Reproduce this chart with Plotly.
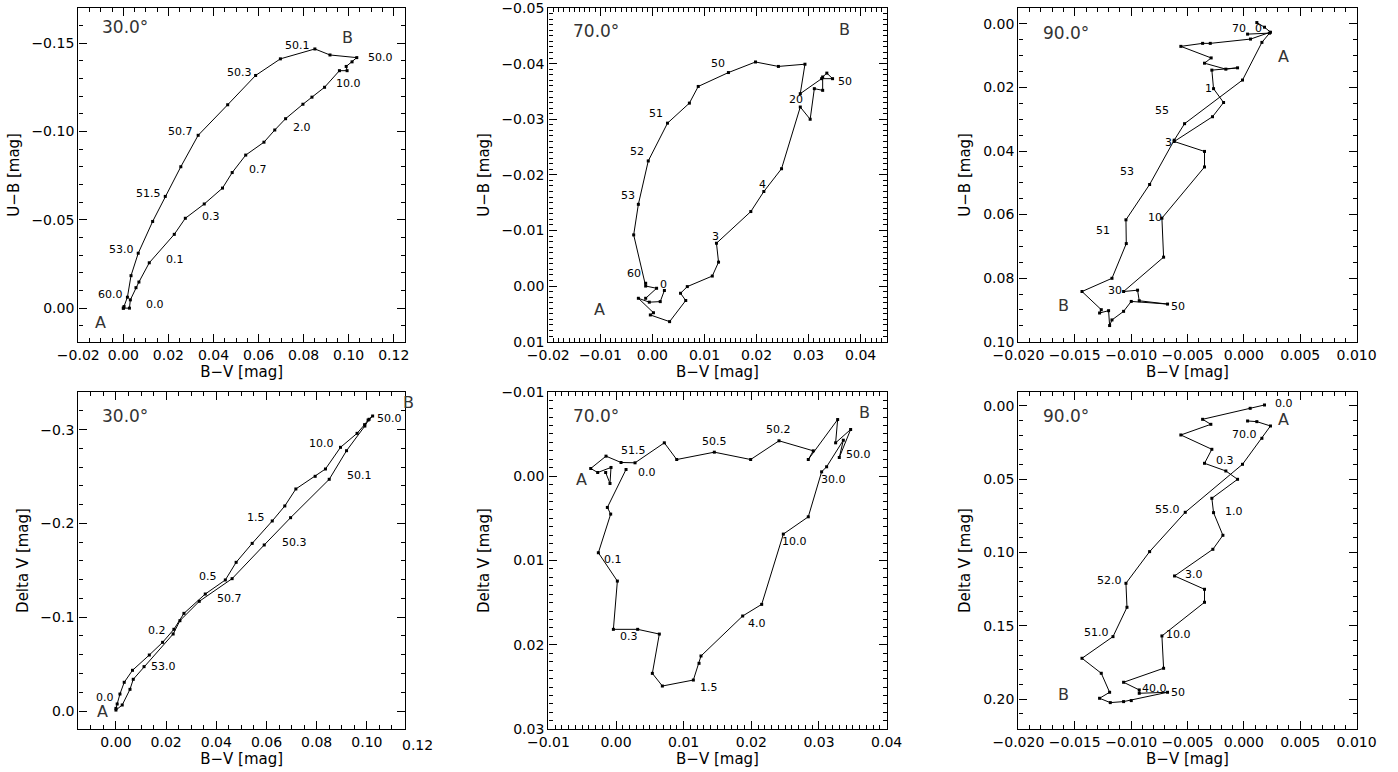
import plotly.graph_objects as go

W, H = 1398, 772

# ---------------- data ----------------
# 30 deg, U-B vs B-V
bv_30_top = [0, 0.0027, 0.0031, 0.0056, 0.0069, 0.0115, 0.0226, 0.0275, 0.0359, 0.0440,
             0.0483, 0.0543, 0.0624, 0.0672, 0.0720, 0.0797, 0.0837, 0.0893, 0.0959, 0.0993,
             0.0989, 0.1015, 0.1036, 0.0917, 0.0850, 0.0697, 0.0587, 0.0463, 0.0332, 0.0255,
             0.0186, 0.0130, 0.0066, 0.0034, 0.0018, 0.0003, 0.0]
ub_30 = [0, 0, -0.0047, -0.0116, -0.0148, -0.0257, -0.0418, -0.0509, -0.0590, -0.0680,
         -0.0768, -0.0867, -0.0940, -0.1009, -0.1073, -0.1155, -0.1195, -0.1251, -0.1345, -0.1345,
         -0.1369, -0.1395, -0.1419, -0.1434, -0.1468, -0.1412, -0.1318, -0.1152, -0.0979, -0.0801,
         -0.0633, -0.0491, -0.0311, -0.0184, -0.0062, -0.0009, 0.0]
lab_30_top = ["0.0", "0.1", "0.3", "0.7", "2.0", "10.0", "50.0", "50.1", "50.3", "50.7", "51.5", "53.0", "60.0"]
lab_30_top_x = [0.0142, 0.0229, 0.0390, 0.0598, 0.0791, 0.0999, 0.1141, 0.0772, 0.0514, 0.0255, 0.0111, -0.0007, -0.0056]
lab_30_top_y = [-0.0020, -0.0277, -0.0520, -0.0787, -0.1022, -0.1270, -0.1418, -0.1487, -0.1337, -0.1000, -0.0650, -0.0333, -0.0077]

# 70 deg, U-B vs B-V
bv_70_top = [0.0023, 0.0015, -0.0006, -0.0027, 0.0002, -0.0004, 0.0033, 0.0064, 0.0054, 0.0067,
             0.0115, 0.0127, 0.0123, 0.0189, 0.0214, 0.0248, 0.0284, 0.0303, 0.0311, 0.0327,
             0.0327, 0.0335, 0.0346, 0.0325, 0.0284, 0.0293, 0.0242, 0.0198, 0.0146, 0.0088,
             0.0071, 0.0029, -0.0008, -0.0027, -0.0036, -0.0013, -0.0013, 0.0008, -0.0013]
ub_70 = [0.0008, 0.0028, 0.0029, 0.0022, 0.0048, 0.0052, 0.0064, 0.0026, 0.0013, 0.0001,
         -0.0018, -0.0043, -0.0077, -0.0134, -0.0170, -0.0211, -0.0322, -0.0300, -0.0355, -0.0352,
         -0.0376, -0.0383, -0.0373, -0.0373, -0.0346, -0.0399, -0.0395, -0.0403, -0.0384, -0.0359,
         -0.0329, -0.0293, -0.0225, -0.0147, -0.0092, -0.0005, 0.0, 0.0004, 0.0022]
lab_70_top = ["0", "3", "4", "20", "50", "50", "51", "52", "53", "60"]
lab_70_top_x = [0.0021, 0.0122, 0.0212, 0.0276, 0.0369, 0.0125, 0.0007, -0.0030, -0.0047, -0.0035]
lab_70_top_y = [-0.0003, -0.0089, -0.0182, -0.0335, -0.0368, -0.0400, -0.0310, -0.0242, -0.0163, -0.0023]

# 90 deg, U-B vs B-V
bv_90_top = [0.00115, 0.00183, 0.00236, 0.00059, -0.00298, -0.00366, -0.00559, -0.00290, -0.00349, -0.00160,
             -0.00056, -0.00284, -0.00269, -0.00180, -0.00278, -0.00618, -0.00349, -0.00349, -0.00727, -0.00712,
             -0.01067, -0.00943, -0.00928, -0.00677, -0.00999, -0.01067, -0.01170, -0.01191, -0.01200, -0.01280,
             -0.01265, -0.01436, -0.01170, -0.01043, -0.01046, -0.00836, -0.00618, -0.00526, -0.00012, 0.00160,
             0.00228, 0.00033]
ub_90 = [-0.00042, 0.00104, 0.00260, 0.00478, 0.00613, 0.00613, 0.00707, 0.01071, 0.01237, 0.01424,
         0.01383, 0.01455, 0.02038, 0.02474, 0.02921, 0.03701, 0.04013, 0.04502, 0.06113, 0.07340,
         0.08421, 0.08379, 0.08712, 0.08816, 0.08733, 0.09045, 0.09315, 0.09492, 0.09024, 0.09097,
         0.08993, 0.08421, 0.08005, 0.06913, 0.06165, 0.05053, 0.03659, 0.03140, 0.01767, 0.00582,
         0.00291, 0.00322]
lab_90_top = ["0", "70", "1", "55", "3", "53", "10", "51", "30", "50"]
lab_90_top_x = [0.0013, -0.00047, -0.0031, -0.0073, -0.0067, -0.0104, -0.0079, -0.0125, -0.0114, -0.0058]
lab_90_top_y = [0.0014, 0.0014, 0.0202, 0.0271, 0.0372, 0.0464, 0.0609, 0.0651, 0.0840, 0.0890]

# 30 deg, Delta V vs B-V
bv_30_bot = [0.0, 0.0005, 0.0016, 0.0033, 0.0066, 0.0133, 0.0186, 0.0231, 0.0271, 0.0356,
             0.0436, 0.0479, 0.0543, 0.0623, 0.0673, 0.0717, 0.0794, 0.0835, 0.0895, 0.0961,
             0.0991, 0.1005, 0.1023, 0.1009, 0.0992, 0.0919, 0.0850, 0.0696, 0.0591, 0.0463,
             0.0332, 0.0255, 0.0228, 0.0112, 0.0069, 0.0056, 0.0025, 0.0]
dv_30 = [-0.0028, -0.0075, -0.0181, -0.0306, -0.0434, -0.0597, -0.0732, -0.0871, -0.1041, -0.1247,
         -0.1397, -0.1585, -0.1787, -0.2026, -0.2186, -0.2367, -0.2502, -0.2580, -0.2811, -0.2960,
         -0.3053, -0.3102, -0.3145, -0.3110, -0.3038, -0.2775, -0.2470, -0.2061, -0.1770, -0.1411,
         -0.1169, -0.0963, -0.0821, -0.0473, -0.0338, -0.0231, -0.0064, -0.0010]
lab_30_bot = ["0.0", "0.2", "0.5", "1.5", "10.0", "50.0", "50.1", "50.3", "50.7", "53.0"]
lab_30_bot_x = [-0.0045, 0.0162, 0.0368, 0.0560, 0.0819, 0.1089, 0.0972, 0.0713, 0.0454, 0.0189]
lab_30_bot_y = [-0.0140, -0.0856, -0.1432, -0.2058, -0.2854, -0.3120, -0.2509, -0.1800, -0.1200, -0.0473]

# 70 deg, Delta V vs B-V
bv_70_bot = [0.00148, -0.00128, -0.00079, -0.00261, 0.00020, -0.00039, 0.00320, 0.00640, 0.00537, 0.00685,
             0.01143, 0.01227, 0.01256, 0.01872, 0.02153, 0.02473, 0.02842, 0.03039, 0.03113, 0.03360,
             0.03300, 0.03468, 0.03246, 0.03276, 0.02842, 0.02916, 0.02409, 0.01990, 0.01453, 0.00897,
             0.00714, 0.00281, 0.00074, -0.00148, -0.00374, -0.00271, -0.00074, -0.00089, -0.00153]
dv_70 = [-0.00079, 0.00371, 0.00450, 0.00908, 0.01244, 0.01816, 0.01816, 0.01872, 0.02338, 0.02488,
         0.02417, 0.02219, 0.02132, 0.01658, 0.01520, 0.00687, 0.00482, -0.00051, -0.00111, -0.00426,
         -0.00221, -0.00553, -0.00395, -0.00671, -0.00197, -0.00300, -0.00419, -0.00197, -0.00284, -0.00197,
         -0.00395, -0.00158, -0.00162, -0.00237, -0.00091, -0.00043, -0.00103, 0.00087, -0.00043]
lab_70_bot = ["0.0", "0.1", "0.3", "1.5", "4.0", "10.0", "30.0", "50.0", "50.2", "50.5", "51.5"]
lab_70_bot_x = [0.00463, -0.0005, 0.0019, 0.0138, 0.0209, 0.02645, 0.0321, 0.0358, 0.0240, 0.01453, 0.00256]
lab_70_bot_y = [-0.0004, 0.00987, 0.01895, 0.0250, 0.01745, 0.00778, 0.0004, -0.0026, -0.00557, -0.00415, -0.0030]

# 90 deg, Delta V vs B-V
bv_90_bot = [0.00183, 0.00056, -0.00366, -0.00293, -0.00559, -0.00284, -0.00349, -0.00160, -0.00056, -0.00284,
             -0.00269, -0.00186, -0.00275, -0.00615, -0.00349, -0.00349, -0.00727, -0.00712, -0.01067, -0.00928,
             -0.00928, -0.00677, -0.00999, -0.01067, -0.01185, -0.01280, -0.01191, -0.01265, -0.01436, -0.01161,
             -0.01037, -0.01046, -0.00836, -0.00520, -0.00012, 0.00160, 0.00236, 0.00115, 0.00033]
dv_90 = [-0.00045, 0.00182, 0.00931, 0.01272, 0.01998, 0.02975, 0.03928, 0.04450, 0.05018, 0.06312,
         0.07289, 0.08833, 0.09787, 0.11603, 0.12511, 0.13397, 0.15690, 0.17893, 0.18846, 0.19369,
         0.19596, 0.19528, 0.20095, 0.20163, 0.20232, 0.19936, 0.19528, 0.18233, 0.17212, 0.15736,
         0.13738, 0.12103, 0.09946, 0.07266, 0.03996, 0.02225, 0.01385, 0.01090, 0.01045]
lab_90_bot = ["0.0", "70.0", "0.3", "1.0", "55.0", "3.0", "52.0", "10.0", "51.0", "40.0", "50"]
lab_90_bot_x = [0.0036, 0.0001, -0.00165, -0.00086, -0.0068, -0.0044, -0.0119, -0.0058, -0.0131, -0.0079, -0.00585]
lab_90_bot_y = [-0.0016, 0.0195, 0.0377, 0.0722, 0.0706, 0.1149, 0.1188, 0.1558, 0.1546, 0.1926, 0.1953]

angles = ["30.0°", "70.0°", "90.0°", "30.0°", "70.0°", "90.0°"]
angle_x = [-0.0103, -0.0156, -0.0180, -0.0064, -0.00665, -0.0180]
angle_y = [-0.1592, -0.0459, 0.0029, -0.3145, -0.0071, 0.0070]
a_x = [-0.0103, -0.0101, 0.0035, -0.0053, -0.00507, 0.0035]
a_y = [0.0079, 0.0043, 0.0102, 0.0010, 0.0004, 0.0093]
b_x = [0.0993, 0.0369, -0.0160, 0.1165, 0.0368, -0.0160]
b_y = [-0.1532, -0.0462, 0.0887, -0.3287, -0.0076, 0.1971]
extra_tick_x = 0.12   # label drawn just past the right edge of the lower-left panel

# ---------------- layout description ----------------
FONT = "DejaVu Sans, Verdana, sans-serif"
TOP = (8.0, 341.7)
BOT = (391.7, 729.3)

panels = [
    dict(x=bv_30_top, y=ub_30, lab=lab_30_top, lx=lab_30_top_x, ly=lab_30_top_y,
         xr=[-0.02, 0.125], yr=[0.019, -0.170], px=(78.3, 405.0), py=TOP,
         xdt=0.02, xmn=0.005, ydt=0.05, ymn=0.01, xf=".2f", yf=".2f", yt="U−B [mag]"),
    dict(x=bv_70_top, y=ub_70, lab=lab_70_top, lx=lab_70_top_x, ly=lab_70_top_y,
         xr=[-0.02, 0.045], yr=[0.01001, -0.05001], px=(548.3, 886.7), py=TOP,
         xdt=0.01, xmn=0.001, ydt=0.01, ymn=0.001, xf=".2f", yf=".2f", yt="U−B [mag]"),
    dict(x=bv_90_top, y=ub_90, lab=lab_90_top, lx=lab_90_top_x, ly=lab_90_top_y,
         xr=[-0.02001, 0.01001], yr=[0.1, -0.005], px=(1018.3, 1356.7), py=TOP,
         xdt=0.005, xmn=0.001, ydt=0.02, ymn=0.005, xf=".3f", yf=".2f", yt="U−B [mag]"),
    dict(x=bv_30_bot, y=dv_30, lab=lab_30_bot, lx=lab_30_bot_x, ly=lab_30_bot_y,
         xr=[-0.015, 0.1152], yr=[0.0195, -0.3404], px=(78.3, 405.0), py=BOT,
         xdt=0.02, xmn=0.005, ydt=0.1, ymn=0.02, xf=".2f", yf=".1f", yt="Delta V [mag]"),
    dict(x=bv_70_bot, y=dv_70, lab=lab_70_bot, lx=lab_70_bot_x, ly=lab_70_bot_y,
         xr=[-0.01001, 0.04001], yr=[0.03001, -0.01001], px=(548.3, 886.7), py=BOT,
         xdt=0.01, xmn=0.001, ydt=0.01, ymn=0.001, xf=".2f", yf=".2f", yt="Delta V [mag]"),
    dict(x=bv_90_bot, y=dv_90, lab=lab_90_bot, lx=lab_90_bot_x, ly=lab_90_bot_y,
         xr=[-0.02001, 0.01001], yr=[0.2205, -0.0095], px=(1018.3, 1356.7), py=BOT,
         xdt=0.005, xmn=0.001, ydt=0.05, ymn=0.01, xf=".3f", yf=".2f", yt="Delta V [mag]"),
]


def frac(v, rng):
    """position of a value inside an axis range, as a fraction of the axis domain"""
    return (v - rng[0]) / (rng[1] - rng[0])


fig = go.Figure()
annotations = []
layout = {}

for i, p in enumerate(panels):
    n = i + 1
    xa = "x" if n == 1 else f"x{n}"
    ya = "y" if n == 1 else f"y{n}"
    fig.add_trace(go.Scatter(
        x=p["x"], y=p["y"], xaxis=xa, yaxis=ya, mode="lines+markers",
        line=dict(color="black", width=1),
        marker=dict(symbol="square", size=3, color="black"),
        showlegend=False, hoverinfo="skip", cliponaxis=False))

    common = dict(showline=True, linecolor="black", linewidth=1.4, mirror="allticks",
                  ticks="inside", ticklen=8, tickwidth=1.2, tickcolor="black",
                  layer="above traces", automargin=False, ticklabeloverflow="allow",
                  showgrid=False, zeroline=False, tick0=0,
                  tickfont=dict(family=FONT, size=14, color="black"))
    xd = [p["px"][0] / W, p["px"][1] / W]
    yd = [1 - p["py"][1] / H, 1 - p["py"][0] / H]
    layout["xaxis" if n == 1 else f"xaxis{n}"] = dict(
        common, domain=xd, anchor=ya, range=p["xr"], dtick=p["xdt"], tickformat=p["xf"],
        minor=dict(ticks="inside", ticklen=4, tickwidth=1, tickcolor="black", dtick=p["xmn"],
                   tick0=0, showgrid=False),
        title=dict(text="B−V [mag]", font=dict(family=FONT, size=15, color="black"), standoff=2))
    layout["yaxis" if n == 1 else f"yaxis{n}"] = dict(
        common, domain=yd, anchor=xa, range=p["yr"], dtick=p["ydt"], tickformat=p["yf"],
        minor=dict(ticks="inside", ticklen=4, tickwidth=1, tickcolor="black", dtick=p["ymn"],
                   tick0=0, showgrid=False),
        title=dict(text=p["yt"], font=dict(family=FONT, size=15, color="black"), standoff=8))

    xdom, ydom = f"{xa} domain", f"{ya} domain"

    def note(x, y, text, size, color="black", xanchor="center"):
        annotations.append(dict(x=frac(x, p["xr"]), y=frac(y, p["yr"]), xref=xdom, yref=ydom,
                                text=text, showarrow=False, xanchor=xanchor, yanchor="middle",
                                font=dict(family=FONT, size=size, color=color)))

    for t, lx, ly in zip(p["lab"], p["lx"], p["ly"]):
        note(lx, ly, t, 11)
    note(angle_x[i], angle_y[i], angles[i], 17, "#333333", "left")
    note(a_x[i], a_y[i], "A", 16, "#333333")
    note(b_x[i], b_y[i], "B", 16, "#333333")

# the reference shows a 0.12 tick label just beyond the right edge of the lower-left panel
annotations.append(dict(x=frac(extra_tick_x, panels[3]["xr"]), y=1 - 745 / H,
                        xref="x4 domain", yref="paper", text="0.12", showarrow=False,
                        xanchor="center", yanchor="middle",
                        font=dict(family=FONT, size=14, color="black")))

fig.update_layout(**layout)
fig.update_layout(template="none", width=W, height=H, margin=dict(l=0, r=0, t=0, b=0),
                  paper_bgcolor="white", plot_bgcolor="white",
                  annotations=annotations)

fig.write_html("out.html", config={"displayModeBar": False},
               post_script="document.body.style.margin='0px';")
